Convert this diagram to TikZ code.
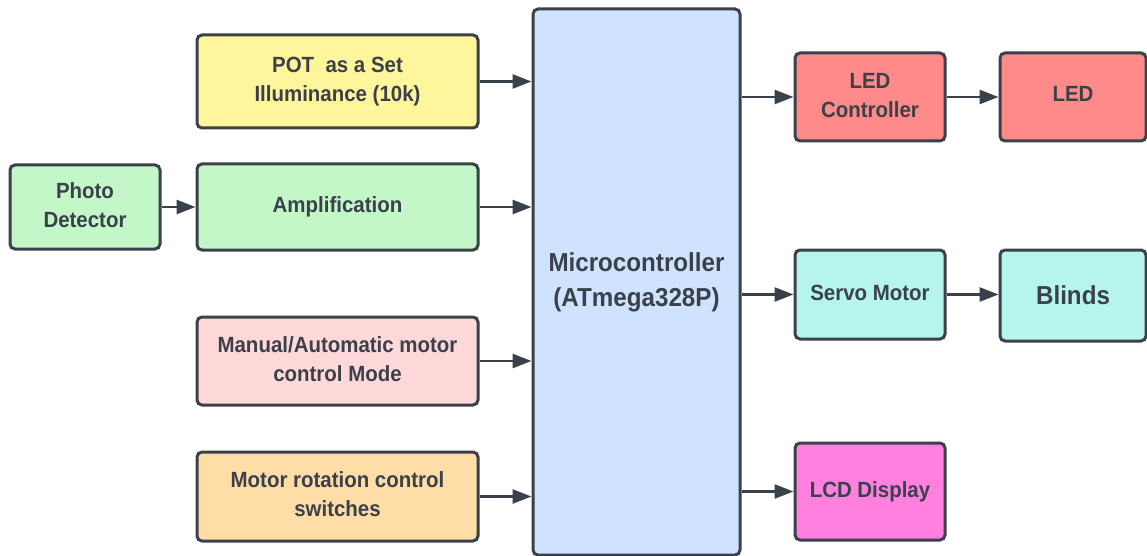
\documentclass[tikz,border=0pt]{standalone}
\usepackage{fontspec}
\setmainfont[FakeStretch=0.93]{Liberation Sans}
\usetikzlibrary{arrows.meta}
\definecolor{ink}{HTML}{3A414A}
\definecolor{cYellow}{HTML}{FFF59C}
\definecolor{cGreen}{HTML}{C3F7C8}
\definecolor{cPink}{HTML}{FFD8DA}
\definecolor{cOrange}{HTML}{FFDDA6}
\definecolor{cBlue}{HTML}{CFE3FF}
\definecolor{cRed}{HTML}{FF8A8A}
\definecolor{cCyan}{HTML}{B5F5EC}
\definecolor{cMagenta}{HTML}{FF80DF}
\newcommand{\twolines}[3]{\raisebox{#1}{\begin{tabular}{@{}c@{}}#2\\[0pt]#3\end{tabular}}}
\tikzset{
  blockbox/.style={draw=ink, line width=3pt, rounded corners=5pt, inner sep=0pt,
    align=center, text=ink, font=\bfseries\fontsize{22}{29}\selectfont},
  arr/.style={draw=ink, line width=2.6pt, -{Triangle[length=19pt,width=14pt]}},
}
\begin{document}
\begin{tikzpicture}[x=1pt,y=-1pt]
\useasboundingbox (0,0) rectangle (1147,556);
% inputs
\node[blockbox, fill=cYellow, minimum width=281pt, minimum height=93pt] (pot) at (337.5,81.5) {\twolines{7pt}{POT\ \ as a Set}{Illuminance (10k)}};
\node[blockbox, fill=cGreen, minimum width=150pt, minimum height=84pt] (photo) at (85,207) {\twolines{3pt}{Photo}{Detector}};
\node[blockbox, fill=cGreen, minimum width=281pt, minimum height=86pt] (amp) at (337.5,207) {\raisebox{2pt}{Amplification}};
\node[blockbox, fill=cPink, minimum width=281pt, minimum height=88pt] (mode) at (337.5,361) {\twolines{7pt}{Manual/Automatic motor}{control Mode}};
\node[blockbox, fill=cOrange, minimum width=281pt, minimum height=89pt] (sw) at (337.5,496.5) {\twolines{7pt}{Motor rotation control}{switches}};
% controller
\node[blockbox, fill=cBlue, minimum width=207pt, minimum height=546pt, font=\bfseries\fontsize{26}{35}\selectfont] (mcu) at (636.5,282) {Microcontroller\\(ATmega328P)};
% outputs
\node[blockbox, fill=cRed, minimum width=150pt, minimum height=88pt] (ledc) at (870,97) {\twolines{6pt}{LED}{Controller}};
\node[blockbox, fill=cRed, minimum width=146pt, minimum height=88pt] (led) at (1073,97) {\raisebox{6pt}{LED}};
\node[blockbox, fill=cCyan, minimum width=150pt, minimum height=89pt] (servo) at (870,294.5) {\raisebox{4pt}{Servo Motor}};
\node[blockbox, fill=cCyan, minimum width=146pt, minimum height=91pt, font=\bfseries\fontsize{26}{35}\selectfont] (blinds) at (1073,295.5) {Blinds};
\node[blockbox, fill=cMagenta, minimum width=150pt, minimum height=97pt] (lcd) at (870,491.5) {LCD Display};
% connections
\draw[arr] (photo.east) -- (amp.west);
\draw[arr] (pot.east) -- (pot.east -| mcu.west);
\draw[arr] (amp.east) -- (amp.east -| mcu.west);
\draw[arr] (mode.east) -- (mode.east -| mcu.west);
\draw[arr] (sw.east) -- (sw.east -| mcu.west);
\draw[arr] (ledc.west -| mcu.east) -- (ledc.west);
\draw[arr] (ledc.east) -- (led.west);
\draw[arr] (servo.west -| mcu.east) -- (servo.west);
\draw[arr] (servo.east) -- (servo.east -| blinds.west);
\draw[arr] (lcd.west -| mcu.east) -- (lcd.west);
\end{tikzpicture}
\end{document}
